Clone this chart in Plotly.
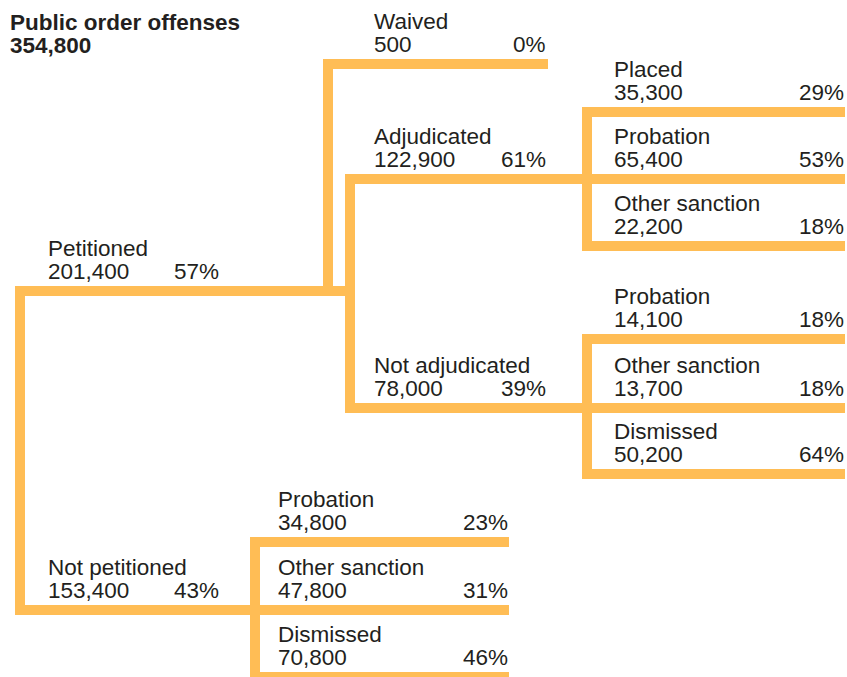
import plotly.graph_objects as go

# ---------------- data ----------------
title_label = "Public order offenses"
title_total = 354800

node_labels = ["Petitioned", "Not petitioned", "Waived", "Adjudicated", "Not adjudicated",
               "Placed", "Probation", "Other sanction",
               "Probation", "Other sanction", "Dismissed",
               "Probation", "Other sanction", "Dismissed"]
node_counts = [201400, 153400, 500, 122900, 78000,
               35300, 65400, 22200,
               14100, 13700, 50200,
               34800, 47800, 70800]
node_pcts = [57, 43, 0, 61, 39,
             29, 53, 18,
             18, 18, 64,
             23, 31, 46]

# ---------------- layout (pixel space) ----------------
W, H = 847, 677
ORANGE = "#FFBD55"
TEXT = "#231F20"
FONT = "Liberation Sans, Arial, Helvetica, sans-serif"
FS = 22.5
T = 10  # line thickness

# per node: y of its horizontal line, text left x, percent right x
node_y = [291, 610, 64, 179, 408, 112, 179, 246, 339, 408, 474, 542, 610, 677]
node_xl = [48, 48, 374, 374, 374, 614, 614, 614, 614, 614, 614, 278, 278, 278]
node_xr = [219, 219, 546, 546, 546, 844, 844, 844, 844, 844, 844, 508, 508, 508]

# horizontal segments: (x_start, x_end, y)
hsegs = [
    (15, 355, 291),   # petitioned
    (15, 260, 610),   # not petitioned
    (323, 548, 64),   # waived
    (345, 592, 179),  # adjudicated
    (345, 592, 408),  # not adjudicated
    (582, 845, 112), (582, 845, 179), (582, 845, 246),
    (582, 845, 339), (582, 845, 408), (582, 845, 474),
    (250, 509, 542), (250, 509, 610), (250, 509, 677),
]
# vertical segments: (x_center, y_top, y_bottom)
vsegs = [
    (20, 291, 610),
    (328, 64, 291),
    (350, 179, 408),
    (587, 112, 246),
    (587, 339, 474),
    (255, 542, 677),
]

fig = go.Figure()
fig.add_trace(go.Scatter(x=[0, W], y=[0, H], mode="markers",
                         marker=dict(opacity=0), hoverinfo="skip", showlegend=False))

shapes = []
for x0, x1, y in hsegs:
    shapes.append(dict(type="rect", xref="x", yref="y", x0=x0, x1=x1,
                       y0=y - T / 2, y1=y + T / 2, fillcolor=ORANGE,
                       line=dict(width=0), layer="below"))
for x, y0, y1 in vsegs:
    shapes.append(dict(type="rect", xref="x", yref="y", x0=x - T / 2, x1=x + T / 2,
                       y0=y0 - T / 2, y1=y1 + T / 2, fillcolor=ORANGE,
                       line=dict(width=0), layer="below"))

ann = []
MID = 7.5  # baseline -> visual middle offset


def add_text(x, baseline, text, anchor="left", bold=False):
    ann.append(dict(x=x, y=baseline - MID, xref="x", yref="y", text=(f"<b>{text}</b>" if bold else text),
                    showarrow=False, xanchor=anchor, yanchor="middle",
                    font=dict(family=FONT, size=FS, color=TEXT), borderpad=0, borderwidth=0))


add_text(10, 30, title_label, bold=True)
add_text(10, 53, f"{title_total:,}", bold=True)

for lab, cnt, pct, y, xl, xr in zip(node_labels, node_counts, node_pcts, node_y, node_xl, node_xr):
    add_text(xl, y - 35, lab)
    add_text(xl, y - 12, f"{cnt:,}")
    add_text(xr, y - 12, f"{pct}%", anchor="right")

fig.update_layout(
    width=W, height=H, margin=dict(l=0, r=0, t=0, b=0),
    paper_bgcolor="white", plot_bgcolor="white",
    xaxis=dict(range=[0, W], visible=False, fixedrange=True),
    yaxis=dict(range=[H, 0], visible=False, fixedrange=True),
    shapes=shapes, annotations=ann, showlegend=False,
)
fig.write_html("out.html", config={"displayModeBar": False},
               post_script="document.body.style.margin='0';document.body.style.overflow='hidden';")
